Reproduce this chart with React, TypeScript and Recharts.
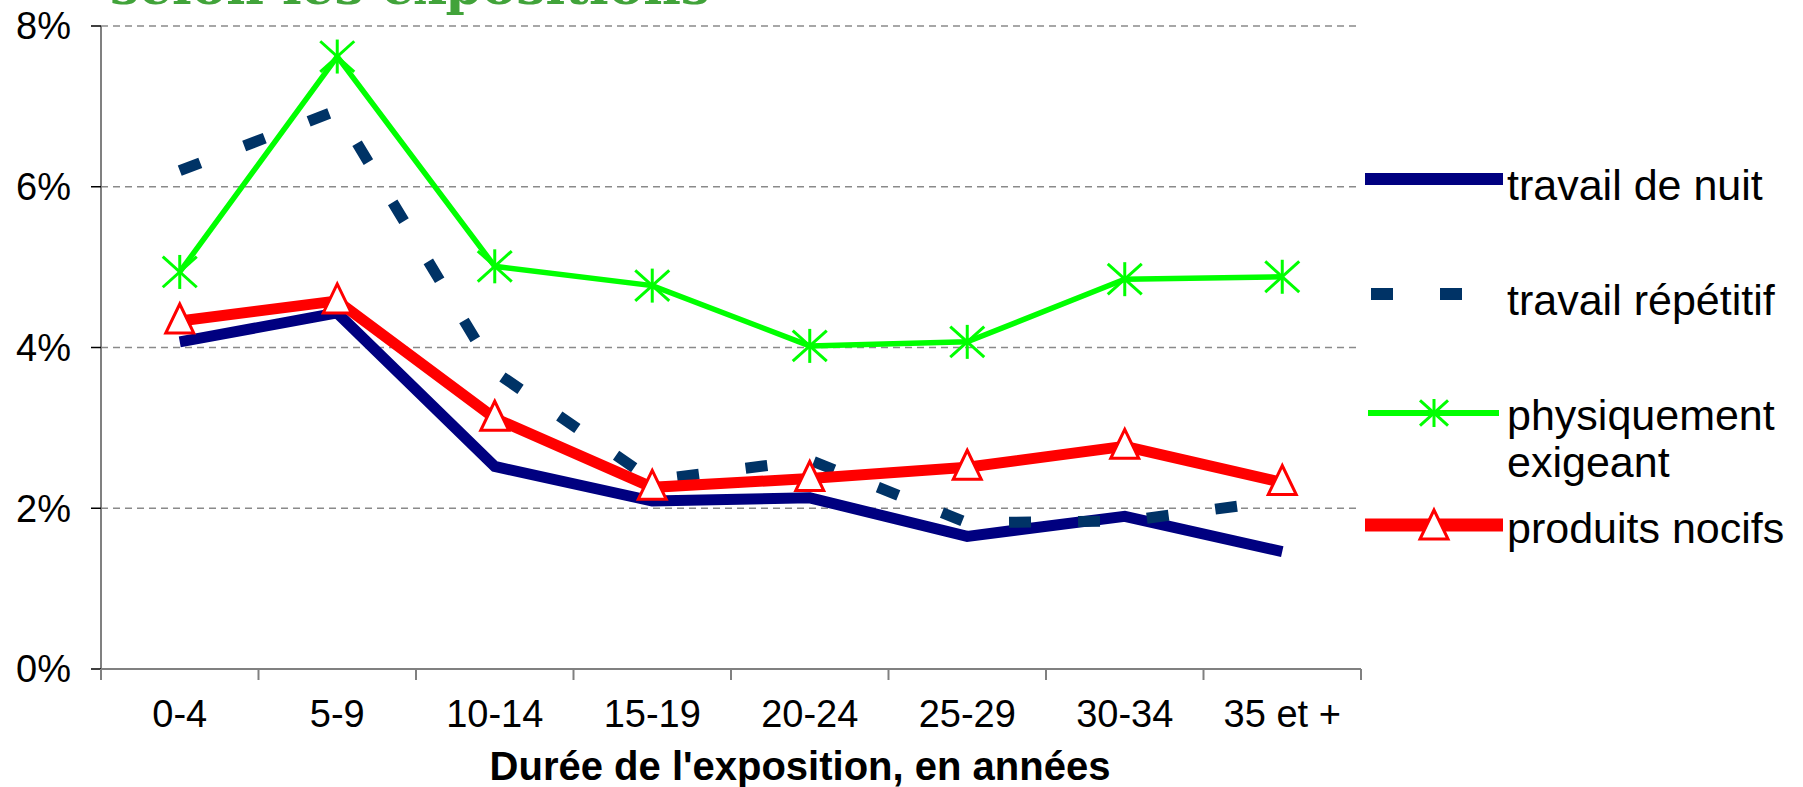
import { LineChart, Line, XAxis, YAxis, CartesianGrid, Legend } from 'recharts';

const categories = ['0-4', '5-9', '10-14', '15-19', '20-24', '25-29', '30-34', '35 et +'];
const travailDeNuit = [4.07, 4.43, 2.52, 2.09, 2.13, 1.65, 1.9, 1.46];
const travailRepetitif = [6.2, 6.95, 3.7, 2.35, 2.6, 1.82, 1.84, 2.1];
const physiquementExigeant = [4.94, 7.62, 5.01, 4.77, 4.02, 4.07, 4.85, 4.88];
const produitsNocifs = [4.33, 4.58, 3.12, 2.26, 2.37, 2.51, 2.77, 2.32];
const yTicks = [0, 2, 4, 6, 8];

const data = categories.map((c, i) => ({
  cat: c,
  nuit: travailDeNuit[i],
  repetitif: travailRepetitif[i],
  physique: physiquementExigeant[i],
  nocifs: produitsNocifs[i],
}));

const FONT = '"Liberation Sans", Arial, sans-serif';
const NAVY = '#000080';
const DASH = '#003366';
const GREEN = '#00FF00';
const RED = '#FF0000';
const AXIS = '#808080';
// plot is 1260px wide for 8 categories -> half a band each side
const HALF_BAND = 78.75;

const Asterisk = ({ cx, cy, r = 17, w = 3 }: any) => (
  <g>
    <line x1={cx} y1={cy - r} x2={cx} y2={cy + r} stroke={GREEN} strokeWidth={w} />
    <line x1={cx - r} y1={cy - r * 0.9} x2={cx + r} y2={cy + r * 0.9} stroke={GREEN} strokeWidth={w} />
    <line x1={cx - r} y1={cy + r * 0.9} x2={cx + r} y2={cy - r * 0.9} stroke={GREEN} strokeWidth={w} />
  </g>
);

const Triangle = ({ cx, cy }: any) => (
  <polygon
    points={`${cx},${cy - 17} ${cx - 14},${cy + 12} ${cx + 14},${cy + 12}`}
    fill="#fff"
    stroke={RED}
    strokeWidth={3}
  />
);

const starDot = (props: any) => {
  if (props.cx == null) return <g key={`s-${props.index}`} />;
  return (
    <g key={`s-${props.index}`}>
      <Asterisk cx={props.cx} cy={props.cy} />
    </g>
  );
};

const triDot = (props: any) => {
  if (props.cx == null) return <g key={`t-${props.index}`} />;
  return (
    <g key={`t-${props.index}`}>
      <Triangle cx={props.cx} cy={props.cy} />
    </g>
  );
};

const XTick = (props: any) => {
  const { x, y, payload, index } = props;
  return (
    <g>
      <line x1={x - HALF_BAND} y1={y - 11} x2={x - HALF_BAND} y2={y} stroke={AXIS} strokeWidth={2} />
      {index === categories.length - 1 && (
        <line x1={x + HALF_BAND} y1={y - 11} x2={x + HALF_BAND} y2={y} stroke={AXIS} strokeWidth={2} />
      )}
      <text x={x} y={y + 47} textAnchor="middle" fontSize={38} fontFamily={FONT} fill="#000">
        {payload.value}
      </text>
    </g>
  );
};

const legendText = { fontSize: 43, fontFamily: FONT, fill: '#000' };

const renderLegend = () => (
  <svg width={443} height={420}>
    <line x1={5} y1={29} x2={143} y2={29} stroke={NAVY} strokeWidth={12} />
    <text x={147} y={50} {...legendText}>travail de nuit</text>

    <line x1={11} y1={144} x2={102} y2={144} stroke={DASH} strokeWidth={12} strokeDasharray="22 47" />
    <text x={147} y={165} {...legendText}>travail répétitif</text>

    <line x1={8} y1={263} x2={139} y2={263} stroke={GREEN} strokeWidth={6} />
    <Asterisk cx={74} cy={263} r={14} w={3} />
    <text x={147} y={280} {...legendText}>physiquement</text>
    <text x={147} y={327} {...legendText}>exigeant</text>

    <line x1={5} y1={375} x2={143} y2={375} stroke={RED} strokeWidth={13} />
    <Triangle cx={74} cy={377} />
    <text x={147} y={393} {...legendText}>produits nocifs</text>
  </svg>
);

export default function App() {
  return (
    <div style={{ position: 'absolute', left: 0, top: 0, width: 1803, height: 787, background: '#fff' }}>
      <svg style={{ position: 'absolute', left: 0, top: 0 }} width={1803} height={30}>
        <text
          x={110}
          y={4}
          textLength={600}
          lengthAdjust="spacingAndGlyphs"
          fontFamily='"DejaVu Serif", serif'
          fontWeight="bold"
          fontSize={50}
          fill="#41a33a"
        >
          selon les expositions
        </text>
      </svg>
      <LineChart width={1803} height={787} data={data} margin={{ top: 26, right: 442, bottom: 0, left: 0 }}>
        <CartesianGrid vertical={false} stroke="#8a8a8a" strokeWidth={1.5} strokeDasharray="7 5" />
        <XAxis
          dataKey="cat"
          height={118}
          interval={0}
          padding={{ left: HALF_BAND, right: HALF_BAND }}
          tickLine={false}
          tickSize={11}
          tickMargin={0}
          axisLine={{ stroke: AXIS, strokeWidth: 2 }}
          tick={<XTick />}
          label={{
            value: "Durée de l'exposition, en années",
            position: 'insideBottom',
            offset: 7,
            dx: 69,
            style: { fontSize: 40, fontWeight: 'bold', fontFamily: FONT, fill: '#000' },
          }}
        />
        <YAxis
          width={101}
          domain={[0, 8]}
          ticks={yTicks}
          interval={0}
          tickFormatter={(v: number) => `${v}%`}
          tickSize={10}
          tickMargin={20}
          axisLine={{ stroke: AXIS, strokeWidth: 2 }}
          tickLine={{ stroke: '#000', strokeWidth: 1.5 }}
          tick={{ fontSize: 38, fontFamily: FONT, fill: '#000' }}
        />
        <Legend
          layout="vertical"
          align="center"
          verticalAlign="middle"
          content={renderLegend}
          wrapperStyle={{ left: 1360, top: 150, width: 443, height: 420 }}
        />
        <Line
          dataKey="nuit"
          name="travail de nuit"
          stroke={NAVY}
          strokeWidth={11}
          dot={false}
          activeDot={false}
          isAnimationActive={false}
        />
        <Line
          dataKey="repetitif"
          name="travail répétitif"
          stroke={DASH}
          strokeWidth={11}
          strokeDasharray="22 47"
          dot={false}
          activeDot={false}
          isAnimationActive={false}
        />
        <Line
          dataKey="physique"
          name="physiquement exigeant"
          stroke={GREEN}
          strokeWidth={5.5}
          dot={starDot}
          activeDot={false}
          isAnimationActive={false}
        />
        <Line
          dataKey="nocifs"
          name="produits nocifs"
          stroke={RED}
          strokeWidth={11}
          dot={triDot}
          activeDot={false}
          isAnimationActive={false}
        />
      </LineChart>
    </div>
  );
}
